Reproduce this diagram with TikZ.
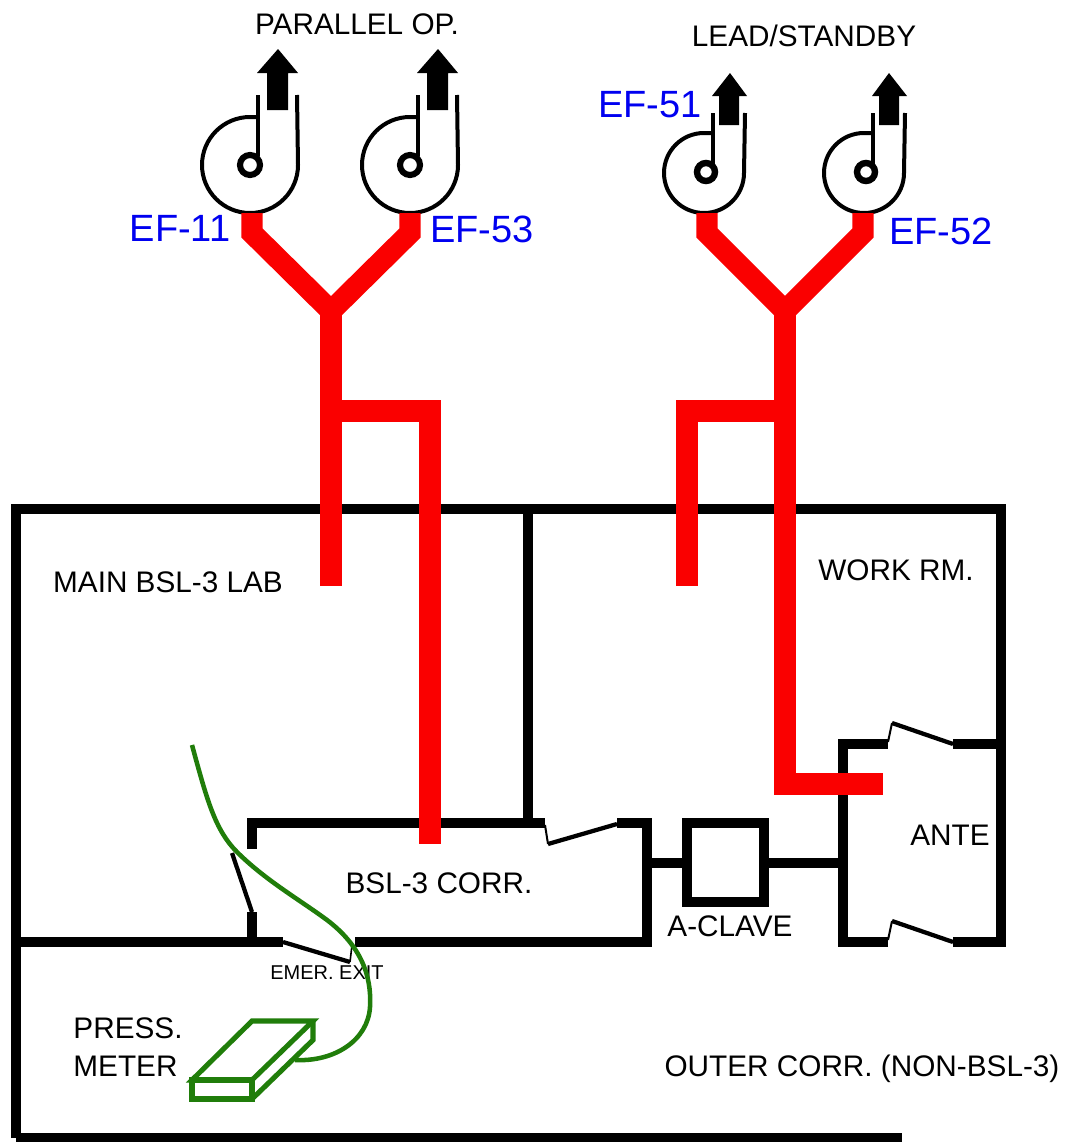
\documentclass[tikz,border=0pt]{standalone}
\usepackage{fontspec}
\setmainfont{Liberation Sans}
\usepackage{xcolor}
\definecolor{ductred}{RGB}{250,0,0}
\definecolor{metergreen}{RGB}{32,125,10}
\definecolor{tagblue}{RGB}{0,0,240}
\tikzset{
	wall/.style={line width=7pt, line cap=butt, line join=miter},
	thinwall/.style={line width=3.2pt, line cap=butt},
	duct/.style={draw=ductred, line width=16pt, line join=miter},
	tube/.style={draw=metergreen, line width=3.4pt},
	meter/.style={draw=metergreen, line width=3.8pt, line join=miter},
	fan/.style={line width=3pt},
	roomtag/.style={inner sep=0pt, font=\fontsize{22.3pt}{28pt}\selectfont},
	smalltag/.style={inner sep=0pt, font=\fontsize{15pt}{18pt}\selectfont},
	fantag/.style={inner sep=0pt, text=tagblue, font=\fontsize{28.5pt}{32pt}\selectfont}
}
\begin{document}
\begin{tikzpicture}[x=0.75pt, y=-0.75pt]
			\useasboundingbox (0,0) rectangle (1066,1142);

			\node[roomtag] (parallel) at (357,24) {PARALLEL OP.};
			\node[roomtag] (standby) at (804,36) {LEAD/STANDBY};
			\node[roomtag] (mainlab) at (168,582) {MAIN BSL-3 LAB};
			\node[roomtag] (workrm) at (896,570) {WORK RM.};
			\node[roomtag] (corr) at (439,883) {BSL-3 CORR.};
			\node[roomtag] (ante) at (950,835) {ANTE};
			\node[roomtag] (aclave) at (730,926) {A-CLAVE};
			\node[roomtag] (outer) at (862,1069) {OUTER CORR. (NON-BSL-3)};
			\node[roomtag, align=left] (press) at (128,1047) {PRESS.\\METER};
			\node[smalltag] (emer) at (327,973) {EMER. EXIT};
			\node[fantag] (ef11) at (180,228) {EF-11};
			\node[fantag] (ef53) at (482,229) {EF-53};
			\node[fantag] (ef51) at (650,105) {EF-51};
			\node[fantag] (ef52) at (941,231) {EF-52};

			\draw[wall] (16,1138) -- (16,509) -- (1001,509) -- (1001,942) -- (953,942);
			\draw[wall] (902,1138) -- (16,1138);
			\draw[wall] (16,942) -- (283,942);
			\draw[wall] (355,942) -- (647,942) -- (647,823) -- (617,823);
			\draw[wall] (545,823) -- (252,823) -- (252,849);
			\draw[wall] (252,912) -- (252,942);
			\draw[wall] (528,509) -- (528,823);
			\draw[wall] (647,863) -- (687,863);
			\draw[wall] (764,863) -- (843,863);
			\draw[wall] (687,823) rectangle (764,902);
			\draw[wall] (888,942) -- (843,942) -- (843,744) -- (888,744);
			\draw[wall] (953,744) -- (1001,744);

			\draw[thinwall] (232,853) -- (252,912);
			\draw[thinwall] (283,942) -- (350,962);
			\draw[thinwall, line width=1.2pt] (350,962) -- (352,945);
			\draw[thinwall] (548,844) -- (617,824);
			\draw[thinwall, line width=1.5pt] (548,844) -- (545,825);
			\draw[thinwall] (892,723) -- (953,744);
			\draw[thinwall, line width=1.5pt] (892,723) -- (888,742);
			\draw[thinwall] (892,921) -- (953,942);
			\draw[thinwall, line width=1.5pt] (892,921) -- (888,940);

			\draw[fan] (258,117) -- (250,117) arc[start angle=-90, end angle=-360, radius=48] -- (297,95);
			\draw[fan] (258,95) -- (258,156);
			\draw[line width=4.6pt] (250,165) circle[radius=10];
			\fill (267,110) -- (267,73) -- (257,73) -- (278,49) -- (298,73) -- (288,73) -- (288,110) -- cycle;

			\draw[fan] (418,117) -- (410,117) arc[start angle=-90, end angle=-360, radius=48] -- (457,95);
			\draw[fan] (418,95) -- (418,156);
			\draw[line width=4.6pt] (410,165) circle[radius=10];
			\fill (427,110) -- (427,73) -- (417,73) -- (438,49) -- (458,73) -- (448,73) -- (448,110) -- cycle;

			\draw[fan] (713,133) -- (704,133) arc[start angle=-90, end angle=-360, radius=40] -- (745,113);
			\draw[fan] (713,113) -- (713,165);
			\draw[line width=4.8pt] (706,172) circle[radius=9];
			\fill (719,125) -- (719,96) -- (712,96) -- (730,73) -- (747,96) -- (739,96) -- (739,125) -- cycle;

			\draw[fan] (873,133) -- (864,133) arc[start angle=-90, end angle=-360, radius=40] -- (905,113);
			\draw[fan] (873,113) -- (873,165);
			\draw[line width=4.8pt] (866,172) circle[radius=9];
			\fill (879,125) -- (879,96) -- (872,96) -- (889,73) -- (907,96) -- (899,96) -- (899,125) -- cycle;

			\coordinate (joinleft) at (331,311);
			\coordinate (joinright) at (785,311);
			\coordinate (teeleft) at (331,411);
			\coordinate (teeright) at (785,411);

			\draw[duct] (252,213) -- (252,233) -- (joinleft);
			\draw[duct] (410,213) -- (410,233) -- (joinleft);
			\draw[duct] (joinleft) -- (teeleft) -- (331,586);
			\draw[duct] (teeleft) -- (430,411) -- (430,844);
			\draw[duct] (707,213) -- (707,233) -- (joinright);
			\draw[duct] (863,213) -- (863,233) -- (joinright);
			\draw[duct] (joinright) -- (teeright) -- (785,784) -- (883,784);
			\draw[duct] (teeright) -- (687,411) -- (687,586);

			\coordinate (tubetip) at (192,745);
			\coordinate (meterport) at (295,1060);
			\draw[meter] (192,1080) -- (252,1021) -- (313,1021) -- (252,1080) -- cycle;
			\draw[meter] (192,1080) rectangle (252,1099);
			\draw[meter] (313,1021) -- (313,1040) -- (252,1099);
			\draw[tube] (tubetip) .. controls (207,800) and (215,830) .. (237,852)
				.. controls (265,880) and (300,900) .. (327,920)
				.. controls (360,945) and (372,975) .. (370,1007)
				.. controls (368,1040) and (335,1062) .. (meterport);
		\end{tikzpicture}
\end{document}
